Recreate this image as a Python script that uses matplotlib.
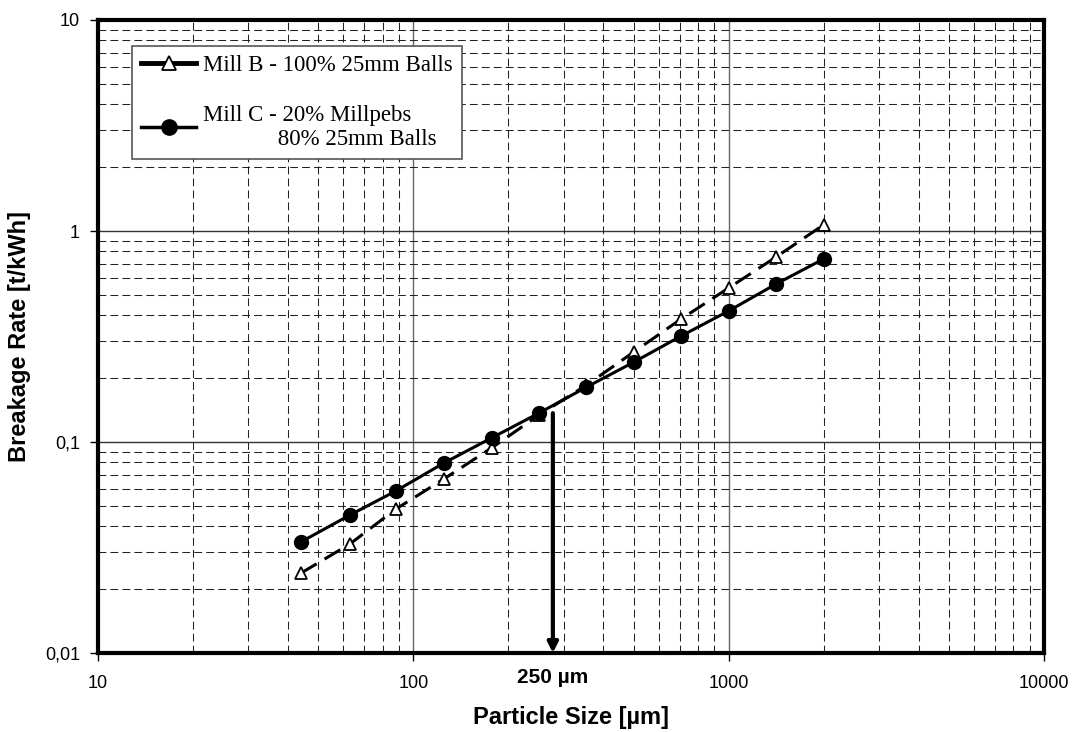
import matplotlib
matplotlib.use('Agg')
import matplotlib.pyplot as plt
from matplotlib.lines import Line2D
from matplotlib.ticker import LogLocator, FixedLocator, FixedFormatter, NullFormatter

# Data
sizes = [44, 63, 88, 125, 177, 250, 354, 500, 707, 1000, 1414, 2000]
mill_b = [0.0239, 0.0329, 0.0481, 0.0668, 0.0937, 0.134, 0.186, 0.267, 0.383, 0.537, 0.753, 1.07]
mill_c = [0.0336, 0.0451, 0.0586, 0.0795, 0.1045, 0.137, 0.182, 0.239, 0.318, 0.418, 0.561, 0.737]
x_ticks = [10, 100, 1000, 10000]
x_labels = ['10', '100', '1000', '10000']
y_ticks = [0.01, 0.1, 1, 10]
y_labels = ['0,01', '0,1', '1', '10']
arrow_x = 277
arrow_top = 0.137

dpi = 100
fig = plt.figure(figsize=(1073 / dpi, 732 / dpi), dpi=dpi)
ax = fig.add_axes([98 / 1073, 1 - 653 / 732, (1044 - 98) / 1073, (653 - 20) / 732])

ax.set_xscale('log')
ax.set_yscale('log')
ax.set_xlim(10, 10000)
ax.set_ylim(0.01, 10)

# grid
ax.xaxis.set_major_locator(FixedLocator(x_ticks))
ax.xaxis.set_major_formatter(FixedFormatter(x_labels))
ax.yaxis.set_major_locator(FixedLocator(y_ticks))
ax.yaxis.set_major_formatter(FixedFormatter(y_labels))
ax.xaxis.set_minor_locator(LogLocator(base=10, subs=range(2, 10)))
ax.yaxis.set_minor_locator(LogLocator(base=10, subs=range(2, 10)))
ax.xaxis.set_minor_formatter(NullFormatter())
ax.yaxis.set_minor_formatter(NullFormatter())
ax.grid(which='major', axis='x', color='#666666', linestyle='-', linewidth=1.0)
ax.grid(which='major', axis='y', color='#333333', linestyle='-', linewidth=1.0)
ax.grid(which='minor', color='#222222', linestyle=(0, (7.5, 4)), linewidth=0.75)
ax.set_axisbelow(True)

ax.tick_params(which='major', direction='out', length=6, width=1,
               top=False, right=False)
ax.tick_params(axis='x', which='major', pad=10)
ax.tick_params(axis='y', which='major', pad=7)
ax.tick_params(which='minor', length=0)
for lab in ax.get_xticklabels() + ax.get_yticklabels():
    lab.set_family('Liberation Sans')
    lab.set_fontsize(13)

for s in ax.spines.values():
    s.set_linewidth(3)
    s.set_color('black')

# series
ax.plot(sizes, mill_b, color='black', linewidth=2.2, linestyle=(0, (6, 3)),
        marker='^', markersize=9, markerfacecolor='white', markeredgecolor='black',
        markeredgewidth=1.3, zorder=3)
ax.plot(sizes, mill_c, color='black', linewidth=2.2, linestyle='-',
        marker='o', markersize=10, markerfacecolor='black', markeredgecolor='black', zorder=4)

# arrow at 250 µm
ax.annotate('', xy=(arrow_x, 0.01), xytext=(arrow_x, arrow_top),
            arrowprops=dict(arrowstyle='-|>', lw=3, color='black', mutation_scale=15,
                            shrinkA=0, shrinkB=0), zorder=5)
ax.annotate('250 µm', xy=(arrow_x, 0.01), xytext=(0, -11), textcoords='offset points',
            ha='center', va='top', fontsize=15, fontweight='bold', family='Liberation Sans',
            annotation_clip=False)

ax.set_xlabel('Particle Size [µm]', fontsize=17, fontweight='bold', family='Liberation Sans', labelpad=10)
ax.set_ylabel('Breakage Rate [t/kWh]', fontsize=17, fontweight='bold', family='Liberation Sans', labelpad=10)

handles = [
    Line2D([], [], color='black', linewidth=3.5, linestyle='-', marker='^', markersize=10,
           markerfacecolor='white', markeredgecolor='black', markeredgewidth=1.3),
    Line2D([], [], color='black', linewidth=2.5, linestyle='-', marker='o', markersize=11,
           markerfacecolor='black'),
]
labels = ['Mill B - 100% 25mm Balls', 'Mill C - 20% Millpebs\n             80% 25mm Balls']
leg = ax.legend(handles, labels, loc='upper left', bbox_to_anchor=(0.036, 0.959),
                borderaxespad=0, prop={'family': 'Liberation Serif', 'size': 16.5},
                fancybox=False, edgecolor='#555555', framealpha=1, handlelength=2.4,
                handletextpad=0.3, labelspacing=1.25, borderpad=0.4)
leg.get_frame().set_linewidth(1.2)
for t in leg.get_texts():
    t.set_linespacing(1.2)

fig.savefig('out.png', dpi=dpi)
